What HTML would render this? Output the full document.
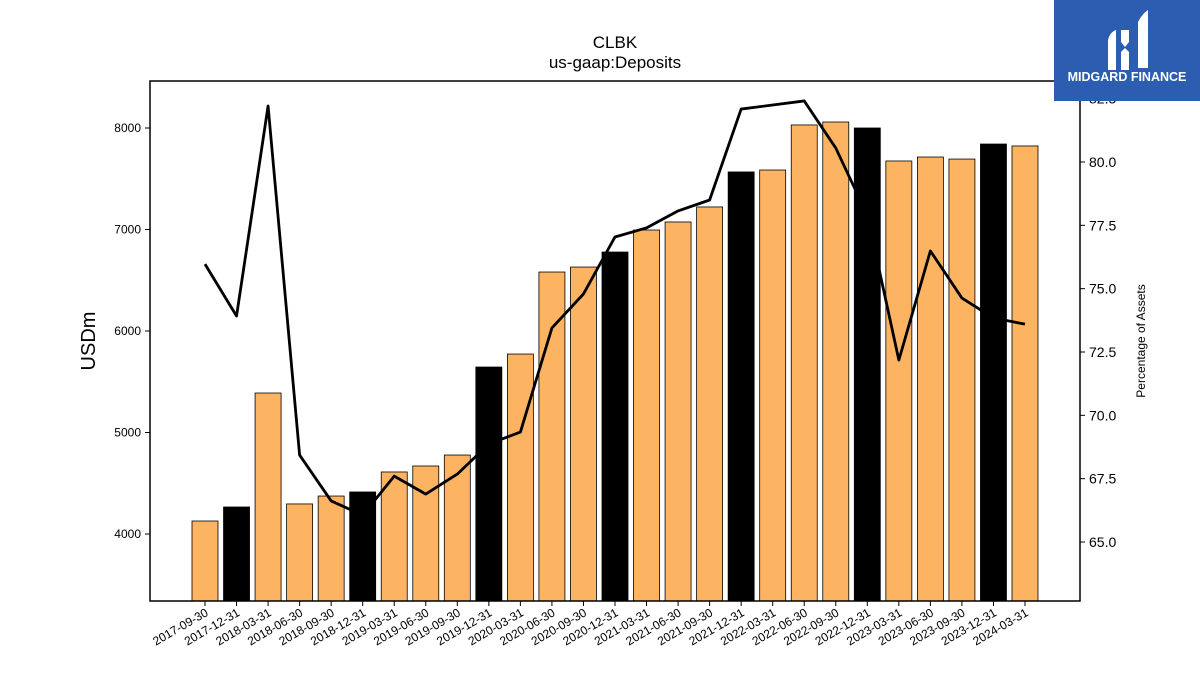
<!DOCTYPE html>
<html><head><meta charset="utf-8"><style>
body{margin:0;background:#fff;}
svg{display:block;font-family:"Liberation Sans","DejaVu Sans",sans-serif;}
</style></head><body>
<svg id="chart" width="1200" height="675" xmlns="http://www.w3.org/2000/svg">
<text x="615" y="48" text-anchor="middle" font-size="17">CLBK</text>
<text x="615" y="68" text-anchor="middle" font-size="17">us-gaap:Deposits</text>
<text transform="translate(95,341) rotate(-90)" text-anchor="middle" font-size="20">USDm</text>
<text transform="translate(1145,341) rotate(-90)" text-anchor="middle" font-size="12">Percentage of Assets</text>
<g id="bars"></g>
<g id="line"></g>
<g id="axes"></g>
<rect x="150" y="81" width="930" height="520" fill="none" stroke="#000" stroke-width="1.5"/>
<g>
<rect x="1054" y="0" width="146" height="101" fill="#2d5db0"/>
<path d="M1108 40 q2-8 8-10 v40 h-8z M1121 30 v12 l4 5 l4-5 v-12 z M1121 52 l4-4 l4 4 v18 h-8z M1138 22 q4-8 10-12 v58 h-10z" fill="#fff"/>
<text x="1127" y="81" text-anchor="middle" font-size="12.5" font-weight="bold" fill="#fff">MIDGARD FINANCE</text>
</g>
</svg>
<script>
const categories=["2017-09-30","2017-12-31","2018-03-31","2018-06-30","2018-09-30","2018-12-31","2019-03-31","2019-06-30","2019-09-30","2019-12-31","2020-03-31","2020-06-30","2020-09-30","2020-12-31","2021-03-31","2021-06-30","2021-09-30","2021-12-31","2022-03-31","2022-06-30","2022-09-30","2022-12-31","2023-03-31","2023-06-30","2023-09-30","2023-12-31","2024-03-31"];
const deposits=[4128,4266,5389,4296,4374,4414,4611,4670,4778,5645,5773,6581,6630,6778,6995,7074,7222,7567,7586,8030,8059,8000,7675,7714,7694,7842,7823];
const pctAssets=[75.97,73.92,82.21,68.43,66.62,66.06,67.6,66.89,67.68,68.87,69.34,73.45,74.79,77.04,77.4,78.07,78.5,82.09,82.25,82.41,80.55,77.9,72.18,76.49,74.63,73.84,73.6];
const leftTicks=[4000,5000,6000,7000,8000];
const rightTicks=[65.0,67.5,70.0,72.5,75.0,77.5,80.0,82.5];
const NS="http://www.w3.org/2000/svg";
const yL=v=>534-(v-4000)*0.1015;
const yR=v=>162-(v-80)*25.333;
const xC=i=>205+i*(1025-205)/26;
function mk(tag,attrs,parent){const e=document.createElementNS(NS,tag);for(const k in attrs)e.setAttribute(k,attrs[k]);parent.appendChild(e);return e;}
const bars=document.getElementById('bars'),line=document.getElementById('line'),axes=document.getElementById('axes');
deposits.forEach((v,i)=>{
 const black=categories[i].endsWith('12-31');
 const r=mk('rect',{x:xC(i)-13,y:yL(v),width:26,height:601-yL(v),fill:black?'#000':'#fdb462',stroke:'#000','stroke-width':0.8},bars);
 
 
});
const p=mk('polyline',{points:pctAssets.map((v,i)=>xC(i)+','+yR(v)).join(' '),fill:'none',stroke:'#000','stroke-width':2.8,'stroke-linejoin':'round'},line);


leftTicks.forEach(t=>{
 mk('line',{x1:145,x2:150,y1:yL(t),y2:yL(t),stroke:'#000'},axes);
 const tx=mk('text',{x:141,y:yL(t)+4,'text-anchor':'end','font-size':12},axes);tx.textContent=t;
 
 
});
rightTicks.forEach(t=>{
 mk('line',{x1:1080,x2:1085,y1:yR(t),y2:yR(t),stroke:'#000'},axes);
 const tx=mk('text',{x:1089,y:yR(t)+5,'font-size':14},axes);tx.textContent=t.toFixed(1);
 
 
});
categories.forEach((c,i)=>{
 const x=xC(i);
 mk('line',{x1:x,x2:x,y1:601,y2:606,stroke:'#000'},axes);
 const tx=mk('text',{transform:`translate(${x+4},${615}) rotate(-30)`,'text-anchor':'end','font-size':12},axes);tx.textContent=c;
 
 
});
</script>
</body></html>
